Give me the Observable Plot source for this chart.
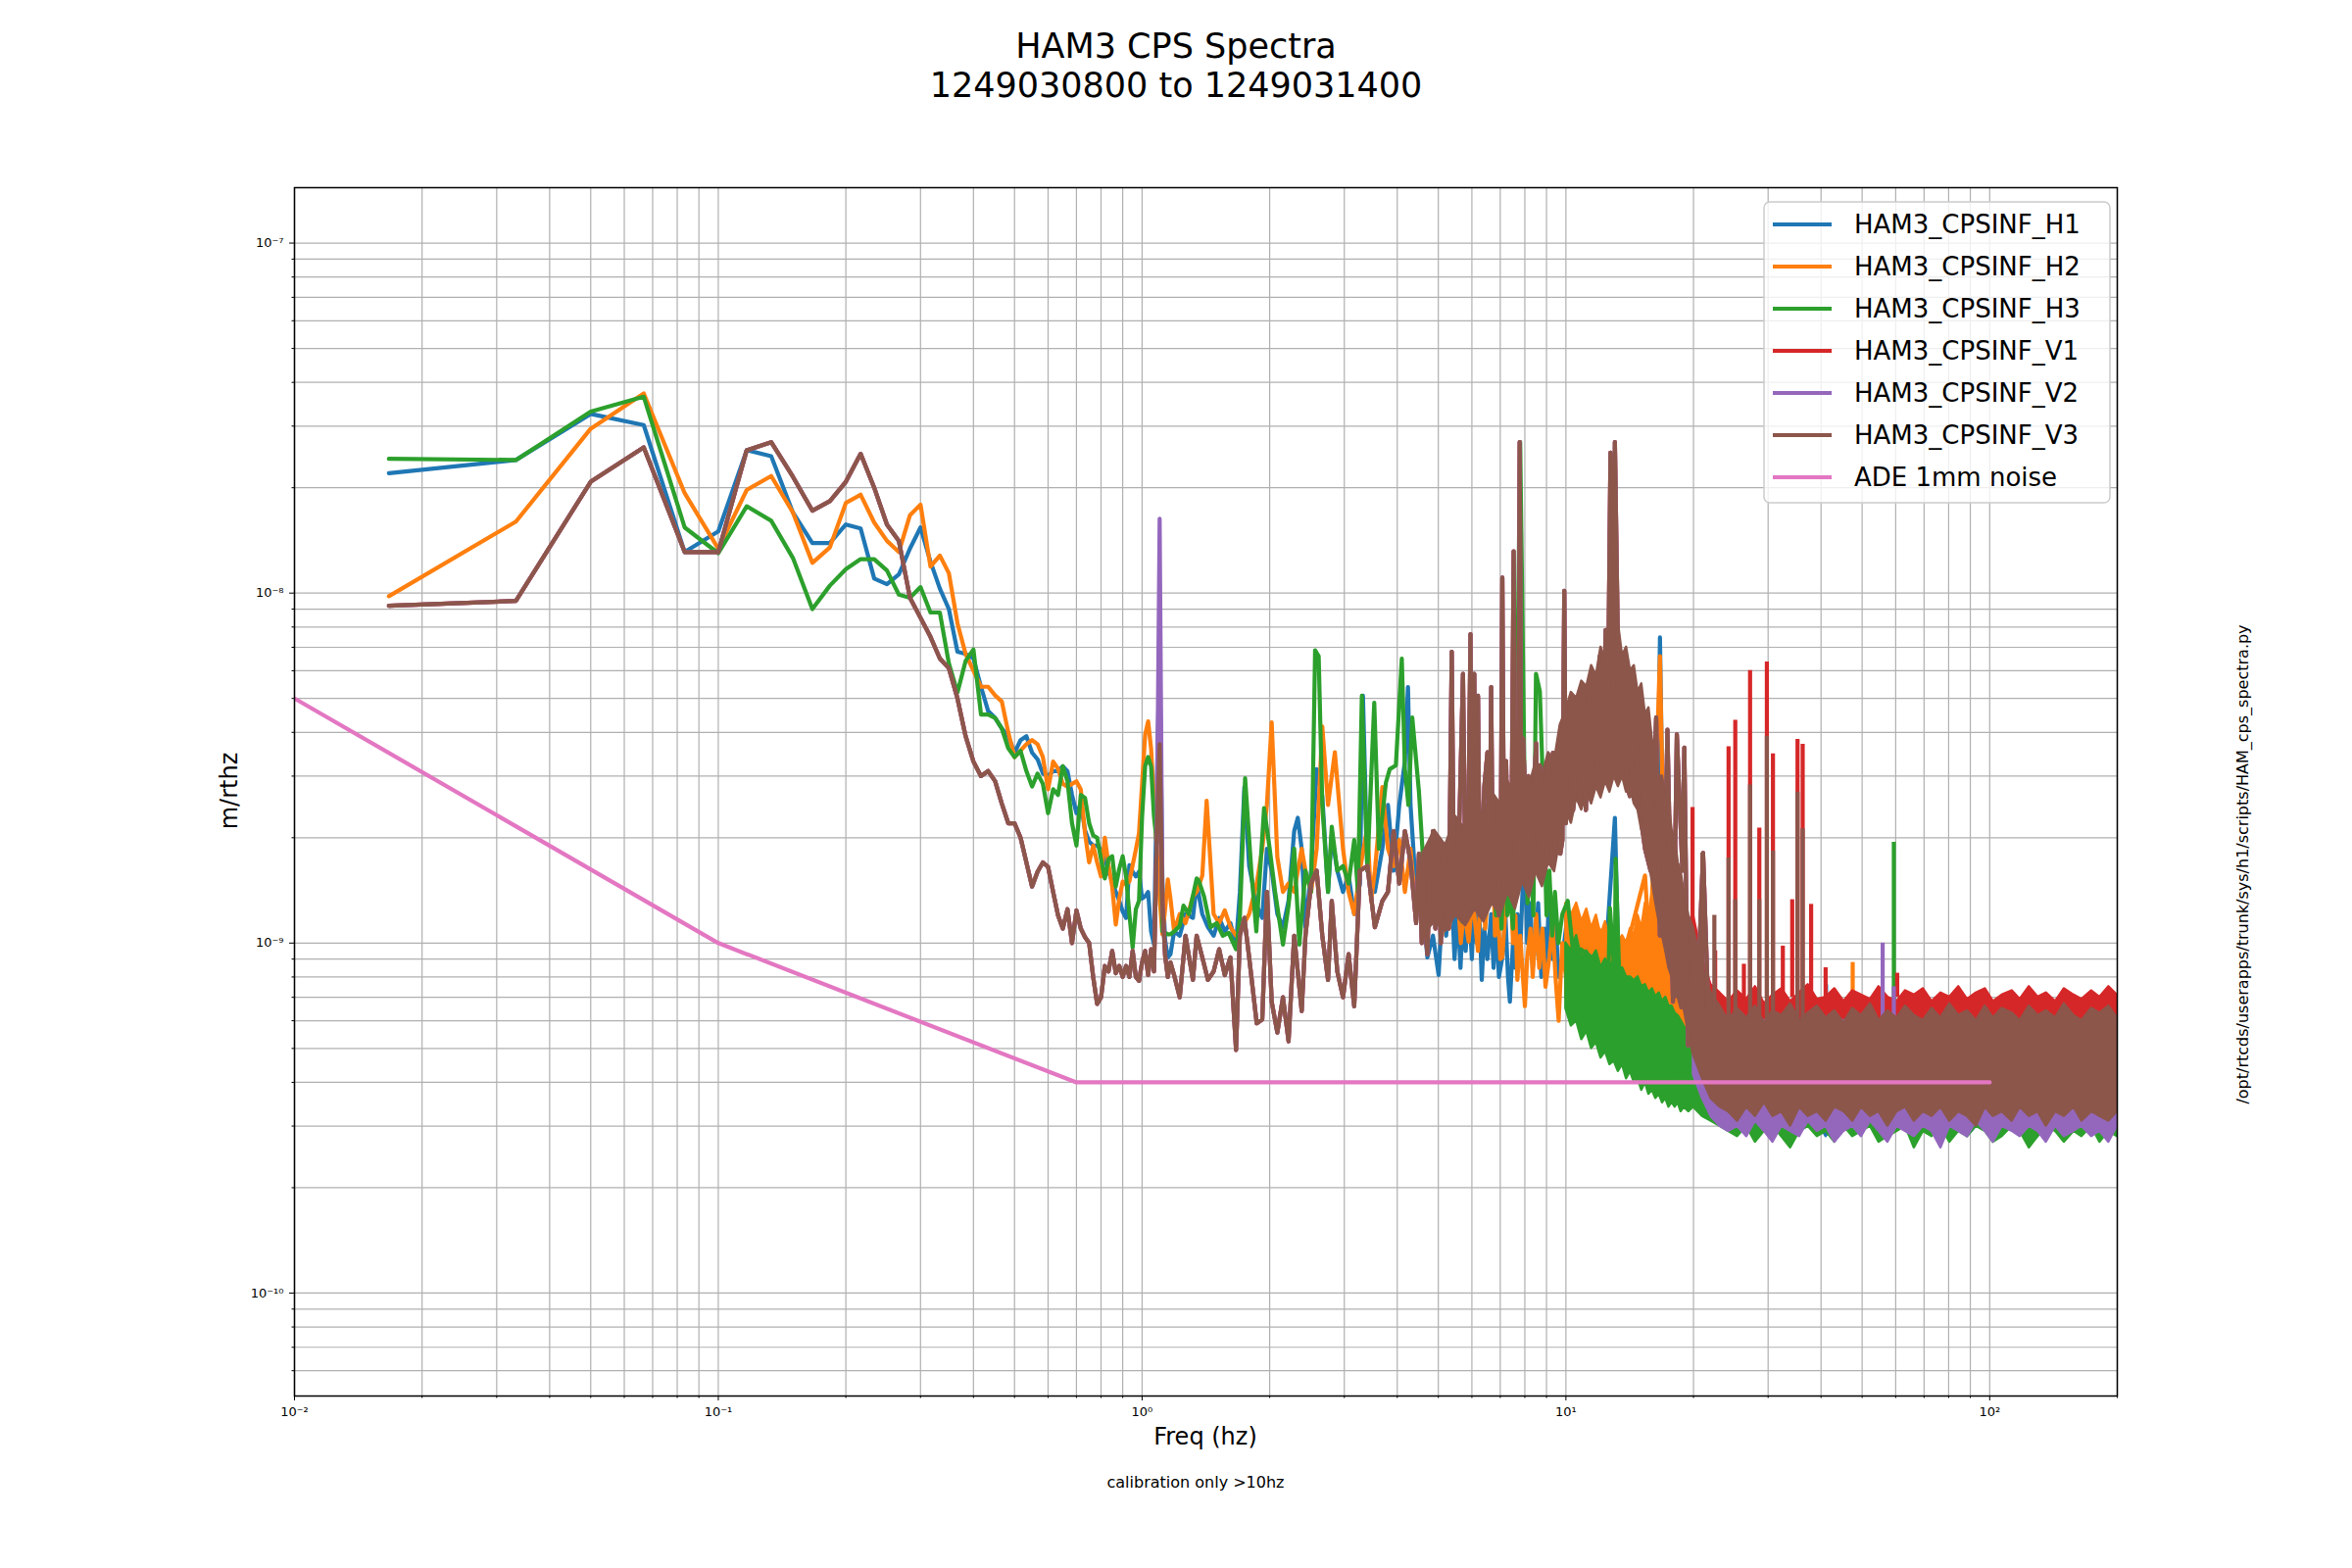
<!DOCTYPE html>
<html><head><meta charset="utf-8">
<script src="https://cdn.jsdelivr.net/npm/d3@7"></script>
<script src="https://cdn.jsdelivr.net/npm/@observablehq/plot@0.6"></script>
<style>
html,body{margin:0;padding:0;background:#fff;}
#chart{position:relative;width:2400px;height:1600px;}
</style></head><body><div id="chart"></div>
<script>
// ---------- DATA (amplitudes in units of 1e-10 m/rthz) ----------
const UNIT = 1e-10;
const seriesNames = ["HAM3_CPSINF_H1","HAM3_CPSINF_H2","HAM3_CPSINF_H3","HAM3_CPSINF_V1","HAM3_CPSINF_V2","HAM3_CPSINF_V3","ADE 1mm noise"];
const seriesColors = ["#1f77b4","#ff7f0e","#2ca02c","#d62728","#9467bd","#8c564b","#e377c2"];

const xTicks = [0.01, 0.1, 1, 10, 100];
const xTickLabels = ["10\u207B\u00B2","10\u207B\u00B9","10\u2070","10\u00B9","10\u00B2"];
const yTicks = [1e-10, 1e-9, 1e-8, 1e-7];
const yTickLabels = ["10\u207B\u00B9\u2070","10\u207B\u2079","10\u207B\u2078","10\u207B\u2077"];

// low-frequency bins (Hz)
const freqLow = [0.0167,0.0333,0.05,0.0667,0.0833,0.1,0.1167,0.1333,0.15,0.1667,
0.1833,0.2,0.2167,0.2333,0.25,0.2667,0.2833,0.3,0.3167,0.3333,
0.35,0.3667,0.3833,0.4,0.4167,0.4333,0.45,0.4667,0.4833,0.5,
0.5167,0.5333,0.55,0.5667,0.5833,0.6,0.6167,0.6333,0.65,0.6667,
0.6833,0.7,0.7167,0.7333,0.75,0.7667,0.7833,0.8,0.8167,0.8333,
0.85,0.8667,0.8833,0.9,0.9167,0.9333,0.95,0.9667,0.9833,1.0,
1.0167,1.0333,1.05,1.0667,1.0833,1.1,1.1167,1.1333,1.15,1.1667];

const h1Low = [220,240,325,302,131,150,256,246,170,139,
139,157,153,110,106,113,134,154,123,103,
90,68,67,65,54,46,44,41,39,35,
38,39,35,33.5,30.5,30,31,31,32,31,
26.5,23.5,25,21,19.5,19,19,18.5,17.5,16,
15,14,13.2,12.3,11.8,16.7,16,15.5,16,13.4,
13.6,14,10.8,9.9,28.5,66,15,10.2,9.1,9.3];
const h2Low = [98,160,295,372,193,134,197,216,170,122,
135,181,191,159,141,131,167,179,119,128,
114,82,67,60,54,54,51,49,40,34,
35.5,37,38,37,34,27.5,33,31.5,28.5,28,
28.5,29,27.5,20.6,17,19,17,15.5,20,16.7,
14.5,11.3,13.4,15,14.7,15,16.7,18.5,20.6,28.5,
39.4,43,36,25.6,18.5,13.4,10.6,12.5,15.2,13.4];
const h3Low = [242,240,330,364,154,130,177,161,126,90,
105,117,125,125,116,99,97,104,88,88,
63,52,64,69,45,45,44,41,36,34,
35.4,31,28,30.5,28.5,23.5,27.5,26.5,32,29,
22,19,26.5,26,22,20.3,20,17.4,15.3,17.4,
17.7,14.5,16.3,17.7,15.5,12.1,9.7,12.5,13.2,23,
32,34,32,23,19.3,39.4,10.8,10.7,10.6,10.6];
// V1, V2, V3 overlap almost exactly at low frequency
const vertLow = [92,95,208,261,131,131,256,270,215,172,
183,208,250,200,157,141,97,85,75,65,
61,50,39,33,30,31,29,25,22,22,
20,17,14.5,16,17,16.5,14,12,11,12.5,
10,12.4,11,10.4,10,8,6.7,7,8.6,8.3,
9.5,8.2,8.6,8,8.6,8,9.5,8,7.8,8.8,
9.5,8.1,9.6,8.3,20,37,13,9.2,8,8.8];

// mid-frequency samples [Hz, value]
const h1Mid = [[1.19,10.8],[1.227,10.5],[1.266,12.1],[1.318,11.8],[1.345,14.8],[1.387,12.1],[1.43,11.1],[1.475,10.5],[1.52,11.8],[1.567,10.8],[1.616,11.4],[1.666,9.9],[1.701,14],[1.743,27.9],[1.789,16.6],[1.864,12.8],[1.921,11.8],[1.97,18.6],[2.022,16.1],[2.085,12.1],[2.15,11.1],[2.216,13.2],[2.285,20.9],[2.33,22.8],[2.38,18.6],[2.429,11.1],[2.505,16.1],[2.582,31.4],[2.662,26.3],[2.746,14],[2.802,20.3],[2.888,16.1],[2.979,14],[3.071,15.6],[3.166,12.1],[3.265,14.8],[3.32,50.9],[3.401,16.1],[3.542,14],[3.689,18.6],[3.803,24.8],[3.922,16.1],[4.044,24.8],[4.169,33.1],[4.24,53.9],[4.299,24.8],[4.432,14],[4.617,12.1],[4.711,9.1],[4.857,10.5],
[5.008,8.1],[5.1,12],[5.216,10.5],[5.3,13],[5.378,14],[5.46,9],[5.55,12.5],[5.64,8.5],[5.717,12.1],[5.8,9.5],[5.9,13],[6.0,9],[6.078,14],[6.16,10],[6.25,12],[6.331,7.85],[6.42,11],[6.53,9],[6.663,12.1],[6.75,8.5],[6.85,11.5],[6.95,8],[7.08,9.1],[7.2,12],[7.3,8],[7.376,6.8],[7.5,10],[7.6,8.5],[7.683,12.1],[7.8,9.5],[7.9,14],[8.003,18.6],[8.1,10],[8.25,13],[8.35,8.5],[8.507,10.5],[8.6,13],[8.75,8],[8.9,11],[9.0,8.5],[9.138,14],[9.3,9],[9.45,12],[9.6,8],[9.811,9.1],[10.0,11],[10.22,12.1],[10.6,7.5],[11.0,10.5],[11.32,7.85],[11.8,10],[12.41,9.1],[13.05,22.8],[13.32,8.3],[14.16,10.5],[15.37,9.1],[16.33,12.1],[16.67,74.7],[16.9,24.8],[17.36,10.5],[18.27,7.85],[19.42,5.9],[20.43,5.1]];
const h2Mid = [[1.19,10.8],[1.227,12.1],[1.266,11.4],[1.318,13.6],[1.345,14],[1.387,15.6],[1.42,25.5],[1.475,12.1],[1.52,11.4],[1.567,12.4],[1.616,11.1],[1.666,10.5],[1.701,10.8],[1.789,12.1],[1.864,14.8],[1.921,18.6],[1.97,24.8],[2.022,42.7],[2.085,17.6],[2.15,14],[2.216,14.8],[2.285,14],[2.38,18.6],[2.429,16.1],[2.505,14],[2.582,18.6],[2.662,41.6],[2.746,24.8],[2.85,35.1],[2.979,18.6],[3.071,14],[3.166,12.1],[3.265,16.1],[3.401,21.5],[3.47,13.2],[3.542,16.1],[3.689,27.9],[3.803,18.6],[3.922,16.6],[4.044,19.7],[4.169,14],[4.299,18.6],[4.432,12.1],[4.617,16.1],[4.857,12.1],
[5.008,14],[5.1,10.5],[5.216,18.6],[5.3,11],[5.4,13],[5.546,14],[5.65,10],[5.75,12.5],[5.895,10.1],[6.0,13],[6.078,12.1],[6.2,9.5],[6.331,16.1],[6.45,11],[6.55,14],[6.663,30.4],[6.801,10.5],[6.9,13],[7.0,9],[7.08,9.1],[7.2,12.5],[7.376,18.6],[7.5,10],[7.6,12],[7.683,7.85],[7.8,10.5],[8.003,6.6],[8.1,9],[8.25,11],[8.35,8],[8.507,12.1],[8.65,8.5],[8.8,11],[8.95,7.5],[9.138,9.1],[9.3,11.5],[9.45,8],[9.614,6],[9.8,10],[10.0,8],[10.22,12.1],[10.7,8],[11.32,7.85],[11.9,11],[12.41,10.5],[13.73,9.1],[15.37,15.6],[15.8,9.1],[16.67,66],[17.0,18.6],[17.89,9.1],[18.84,7.85],[20.02,5.1]];
const h3Mid = [[1.19,10.8],[1.227,11.2],[1.252,12.8],[1.29,12.1],[1.345,15.3],[1.36,15.1],[1.40,13.6],[1.45,11.1],[1.50,11.4],[1.55,10.5],[1.60,10.7],[1.666,9.6],[1.701,11.8],[1.75,29.6],[1.81,16.1],[1.86,10.8],[1.94,24.3],[2.0,18.6],[2.06,14],[2.15,9.9],[2.216,12.8],[2.285,18.6],[2.35,9.9],[2.429,16.1],[2.505,14],[2.56,68.6],[2.61,66],[2.662,24.8],[2.746,14],[2.802,21.5],[2.888,16.1],[2.979,16.6],[3.071,14.8],[3.166,19.7],[3.23,14],[3.3,50.9],[3.40,16.1],[3.53,48.6],[3.62,18.6],[3.76,28.7],[3.84,31.4],[3.97,32.2],[4.10,65],[4.17,31.4],[4.25,24.8],[4.34,44.1],[4.50,27.1],[4.62,16.1],[4.78,17.6],[4.93,14.8],[5.08,11],[5.22,18.6],[5.38,12],[5.55,16.1],[5.7,11.5],[5.83,21.2],[5.92,12],[6.02,17.6],[6.14,38.4],[6.24,13],[6.33,18.6],[6.43,12],[6.53,24.8],[6.63,13],[6.73,21.5],[6.84,12],[6.94,16.1],[7.05,11],[7.16,19.7],[7.27,12],[7.38,14],[7.5,11],[7.6,18.6],[7.8,270],[8.0,24.8],[8.12,13],[8.25,18.6],[8.38,12],[8.5,58.8],[8.68,52.4],[8.86,24.8],[9.0,12],[9.14,16.1],[9.28,10.5],[9.42,14],[9.6,10],[9.81,12.1],[10.1,13.2],[10.43,9.1],[10.64,7.2],[10.84,9.6],[11.5,9.1],[12.03,5.9],[12.5,5.24],[12.7,12.6],[13.05,7.85],[13.1,17.4],[13.5,5.4],[14.16,4.4],[15.0,4.7],[15.37,5.9],[16.33,5.1],[17.36,4.7],[18.27,4.4],[19.42,4.0],[20.4,3.8]];
const vertMid = [[1.19,8.1],[1.227,7.0],[1.266,10.5],[1.318,7.85],[1.345,10.5],[1.387,9.1],[1.43,7.85],[1.475,8.3],[1.52,9.6],[1.567,8.1],[1.616,9.1],[1.666,4.95],[1.701,10.5],[1.743,11.8],[1.789,9.1],[1.864,5.9],[1.921,6.05],[1.97,14],[2.022,6.8],[2.085,5.55],[2.15,7.0],[2.216,5.24],[2.285,10.5],[2.38,6.4],[2.429,10.5],[2.505,14.8],[2.582,16.1],[2.662,10.5],[2.746,7.85],[2.802,13.2],[2.888,8.3],[2.979,7.0],[3.071,9.3],[3.166,6.6],[3.265,16.1],[3.401,16.6],[3.542,11.1],[3.689,13.2],[3.803,14],[3.922,20.9],[4.044,14.8],[4.169,20.9],[4.299,17.1],[4.432,11.4],
[4.5,18],[4.57,10],[4.617,17.6],[4.66,11],[4.711,9.3],[4.78,16],[4.857,20.9],[4.92,11],[5.008,16.1],[5.07,10],[5.14,19],[5.216,14.8],[5.29,11],[5.378,68],[5.45,12],[5.546,14],[5.62,25],[5.717,58.8],[5.8,13],[5.895,26.3],[5.955,76.3],[6.0,20],[6.078,58.8],[6.14,15],[6.203,50.9],[6.27,12],[6.331,18.6],[6.42,28],[6.529,35.1],[6.6,14],[6.663,53.9],[6.73,13],[6.801,17.6],[6.88,24],[6.95,12],[7.02,20],[7.08,110.7],[7.15,14],[7.227,33.1],[7.3,16],[7.376,14],[7.45,25],[7.528,131.7],[7.6,17],[7.683,35.1],[7.73,18],[7.778,270],[7.85,20],[7.922,38.4],[8.003,27.9],[8.08,15],[8.16,30],[8.251,26.3],[8.33,16],[8.42,28],[8.507,37.2],[8.6,18],[8.682,32.2],[8.77,17],[8.862,22.8],[8.95,30],[9.04,17],[9.138,26.3],[9.23,19],[9.32,35],[9.419,29.6],[9.5,20],[9.614,33.1],[9.7,18],[9.811,19.7],[9.911,101.6],[10.0,22],[10.1,40],[10.22,36.2],[10.4,24],[10.64,44.1],[10.8,26],[10.97,35.1],[11.15,24],[11.32,50.9],[11.5,28],[11.67,55.6],[11.85,30],[12.03,66.1],[12.2,32],[12.41,78.5],[12.55,40],[12.74,252],[12.9,44],[13.05,270],[13.32,50.9],[13.5,30],[13.73,44.1],[13.95,28],[14.16,26.3],[14.6,44.1],[14.9,24.8],[15.37,18.6],[15.84,16.1],[16.33,44.1],[16.67,10.5],[17.18,21.5],[17.36,40.7],[17.89,6.8],[18.27,39.5],[18.84,16.1],[19.03,36.2],[19.42,5.1],[20.02,9.1],[20.43,6.8],[21.07,18.1],[21.73,5.88],[22.54,4.41]];
const v2Peak = [[1.0833,20],[1.1,163],[1.1167,13]];

// dense noise envelopes (lo / hi)
const fV3Pre = [4.6,4.9,5.2,5.5,5.8,6.1,6.4,6.7,7,7.3,7.6,7.9,8.2,8.5,8.8,9.1,9.4,9.7];
const fTrans = [10,10.3,10.6,10.9,11.2,11.5,11.8,12.1,12.4,12.7,13,13.3,13.6,13.9,14.2,14.5,14.8,15.1,15.4,15.7,16,16.3,16.6,16.9,17.2,17.5,17.8,18.1,18.4,18.7,19,19.5];
const fHigh = [20,21,22,23.1,24.2,25.4,26.7,28,29.4,30.8,32.3,33.9,35.6,37.3,39.2,41.1,43.1,45.3,47.5,49.8,52.3,54.8,57.5,60.4,63.3,66.4,69.7,73.1,76.7,80.5,84.5,88.6,93,97.6,102,107,113,118,124,130,136,143,150,158,165,174,182,191,200];

const h1TransLo = [7,6.2,6.6,5.8,6.2,5.5,5.8,5.2,5.5,5.0,5.3,4.9,5.1,4.8,5.0,4.7,4.9,4.6,4.8,4.5,4.7,4.4,4.6,4.3,4.5,4.2,4.3,4.0,4.1,3.8,3.8,3.5];
const h1TransHi = [12,11,12,10.5,11,10,10.5,9.5,10,9.5,11,9.5,10,9,9.5,9,9.5,9,9.5,9,10,9.5,10,9.5,9.5,9,8.5,8.5,8,7.5,7,6];
const h1HighLo = [3.5,3.3,3.2,3.1,3.0,3.1,2.9,3.0,3.1,2.9,3.0,3.2,2.9,3.0,3.1,2.8,3.0,3.1,2.9,3.0,3.1,3.0,2.8,3.1,3.0,2.9,3.1,3.0,2.9,3.1,3.0,2.8,3.0,3.1,2.9,3.0,3.1,2.9,3.0,2.8,3.1,3.0,2.9,3.1,3.0,2.9,3.1,2.8,3.0];
const h1HighHi = [6,5.5,5.2,5.1,5,5,5,5,5,5,5,5,5,5,5,5,5,5,5,5,5,5,5,5,5,5,5,5,5,5,5,5,5,5,5,5,5,5,5,5,5,5,5,5,5,5,5,5,5];

const h2TransLo = [7,6.5,6.8,6.2,6.4,5.9,6.1,5.7,5.9,5.5,5.7,5.4,5.6,5.3,5.5,5.2,5.4,5.1,5.3,5.0,5.2,4.9,5.0,4.7,4.8,4.5,4.5,4.3,4.3,4.0,4.0,3.6];
const h2TransHi = [13,12,13,11.5,12.5,11,12,10.5,11.5,10,11,10,10.5,10,11,10.5,12,11,13,12,14,13,13.5,12,12,11,10.5,10,9.5,9,8,7];
const h2HighLo = [3.5,3.3,3.2,3.1,3.1,3.0,3.2,2.9,3.1,3.0,3.1,2.9,3.0,3.2,3.0,3.1,2.9,3.1,3.0,2.9,3.1,3.0,3.2,2.9,3.1,3.0,2.9,3.1,3.0,3.1,2.9,3.0,3.1,3.0,2.9,3.1,3.0,2.9,3.1,3.0,3.2,2.9,3.0,3.1,2.9,3.0,3.1,3.0,2.9];
const h2HighHi = [6,5.5,5.2,5.1,5,5,5,5,5,5,5,5,5,5,5,5,5,5,5,5,5,5,5,5,5,5,5,5,5,5,5,5,5,5,5,5,5,5,5,5,5,5,5,5,5,5,5,5,5];

const h3TransLo = [6.5,5.8,6.0,5.3,5.6,5.0,5.2,4.7,4.9,4.5,4.6,4.3,4.5,4.1,4.3,4.0,4.1,3.8,4.0,3.7,3.8,3.6,3.7,3.5,3.6,3.4,3.5,3.4,3.5,3.3,3.4,3.3];
const h3TransHi = [10,9.5,10.5,9,9.5,9,9.5,8.5,9,8.5,9,8,8.5,8,8,7.8,8,7.5,7.6,7.2,7.4,7,7.2,6.8,7,6.6,6.6,6.3,6.2,6,5.8,5.4];
const h3HighLo = [3.4,3.2,3.1,3.0,2.9,2.8,3.0,2.7,2.9,3.0,2.8,2.6,2.9,3.0,2.8,2.9,2.7,3.0,2.8,2.9,3.0,2.7,2.8,2.9,3.0,2.6,2.9,2.8,3.0,2.7,2.9,2.8,3.0,2.9,2.7,2.8,3.0,2.9,2.6,2.8,3.0,2.9,2.7,2.9,2.8,3.0,2.7,2.9,2.8];
const h3HighHi = [5.4,5.1,5.0,4.9,4.8,4.8,4.8,4.8,4.8,4.8,4.8,4.8,4.8,4.8,4.8,4.8,4.8,4.8,4.8,4.8,4.8,4.8,4.8,4.8,4.8,4.8,4.8,4.8,4.8,4.8,4.8,4.8,4.8,4.8,4.8,4.8,4.8,4.8,4.8,4.8,4.8,4.8,4.8,4.8,4.8,4.8,4.8,4.8,4.8];

const v1HighLo = [5,4.2,3.8,3.7,3.7,3.7,3.7,3.7,3.7,3.7,3.7,3.7,3.7,3.7,3.7,3.7,3.7,3.7,3.7,3.7,3.7,3.7,3.7,3.7,3.7,3.7,3.7,3.7,3.7,3.7,3.7,3.7,3.7,3.7,3.7,3.7,3.7,3.7,3.7,3.7,3.7,3.7,3.7,3.7,3.7,3.7,3.7,3.7,3.7];
const v1HighHi = [12,9,7.6,7.2,6.8,7.3,6.9,7.5,6.7,7.1,7.4,6.8,7.2,7.6,6.9,7.0,7.4,6.8,7.3,7.1,6.9,7.5,7.0,6.8,7.3,7.1,7.4,6.8,7.2,7.0,7.5,6.9,7.2,7.4,6.8,7.1,7.3,6.9,7.5,7.0,7.2,6.8,7.4,7.1,6.9,7.3,7.0,7.5,7.1];
const v2HighLo = [4.2,3.6,3.2,3.0,2.9,3.0,2.8,3.1,2.9,2.7,3.0,2.9,2.8,3.1,2.9,3.0,2.7,2.9,3.0,2.8,3.1,2.9,2.7,3.0,2.9,2.8,3.0,2.9,2.6,3.0,2.9,2.8,3.1,2.9,2.7,3.0,2.9,2.8,3.0,2.9,2.7,3.0,2.8,2.9,3.0,2.8,2.9,2.7,3.0];
const v2HighHi = [10,8,7,6.5,6,6,6,6,6,6,6,6,6,6,6,6,6,6,6,6,6,6,6,6,6,6,6,6,6,6,6,6,6,6,6,6,6,6,6,6,6,6,6,6,6,6,6,6,6];
const v3PreLo = [10.5,11.5,10.8,12,11.2,12.5,11.5,13,12,14,12.5,15,13.5,16,14.5,17,16,20];
const v3PreHi = [18,21,19,23,21,25,23,27,25,29,26,31,28,33,30,35,33,42];
const v3TransLo = [24,22,26,24,27,25,28,26,29,27,30,28,30,27,28,25,24,21,19,17,15,13,11.5,10.5,9.5,8.5,8,7,7,6.5,6.5,5.5];
const v3TransHi = [46,52,50,56,54,62,58,70,64,80,72,82,66,70,60,62,52,55,45,47,38,36,30,30,26,25,21,20,17,16,14,12];
const v3HighLo = [4.8,4.1,3.6,3.4,3.3,3.1,3.4,3.2,3.5,3.2,3.3,3.0,3.4,3.2,3.3,3.1,3.4,3.3,3.1,3.4,3.2,3.3,3.0,3.3,3.4,3.1,3.3,3.2,3.4,3.1,3.3,3.2,3.0,3.4,3.2,3.3,3.1,3.4,3.2,3.3,3.0,3.3,3.2,3.4,3.1,3.3,3.2,3.1,3.3];
const v3HighHi = [11,8.5,7.2,6.6,6.0,6.5,6.1,6.6,5.9,6.4,6.2,6.7,6.0,6.3,6.6,6.1,6.4,5.9,6.5,6.2,6.7,6.0,6.4,6.1,6.6,6.2,6.0,6.5,6.1,6.7,6.2,6.4,6.0,6.6,6.1,6.5,6.3,6.0,6.6,6.2,6.4,6.1,6.7,6.2,6.0,6.5,6.3,6.6,6.1];

// narrow spectral lines [Hz, base, top]
const h1Spikes = [[41.1,5,7.6]];
const h2Spikes = [[47.5,5,8.8]];
const h3Spikes = [[59.4,5,19.4]];
const v1Spikes = [[19.9,9,24.4],[22.5,7,9.5],[24.2,7,36.4],[25.1,7,43.3],[26.3,7,8.7],[27.2,7,60.1],[28.6,7,21.3],[29.8,7,63.6],[30.8,7,34.7],[32.5,7,9.8],[34.2,7,13.3],[35.2,7,38.2],[36.2,7,37],[37.9,7,12.9],[41,7,8.5],[60.5,7,8.2]];
const v2Spikes = [[55.9,6,10],[59.4,6,7.5]];
const v3Spikes = [[21.0,6,18.1],[22.4,6,12],[24.2,6,17.5],[25.1,6,13.3],[27.2,6,28.3],[28.6,6,13.3],[29.8,6,39],[30.8,6,18.3],[35.2,6,27],[36.2,6,21.2]];

// ADE 1mm noise reference
const adeFreq = [0.01, 0.1, 0.7, 100];
const adeVal = [50, 10, 4, 4];

// ---------- BUILD ----------
const fBandFull = fTrans.concat(fHigh);
const series = [
  {low: h1Low, mid: h1Mid, bandF: fBandFull, lo: h1TransLo.concat(h1HighLo), hi: h1TransHi.concat(h1HighHi), spikes: h1Spikes},
  {low: h2Low, mid: h2Mid, bandF: fBandFull, lo: h2TransLo.concat(h2HighLo), hi: h2TransHi.concat(h2HighHi), spikes: h2Spikes},
  {low: h3Low, mid: h3Mid, bandF: fBandFull, lo: h3TransLo.concat(h3HighLo), hi: h3TransHi.concat(h3HighHi), spikes: h3Spikes},
  {low: vertLow, mid: vertMid, bandF: fHigh, lo: v1HighLo, hi: v1HighHi, spikes: v1Spikes},
  {low: vertLow, mid: vertMid, bandF: fHigh, lo: v2HighLo, hi: v2HighHi, spikes: v2Spikes, extra: v2Peak},
  {low: vertLow, mid: vertMid, bandF: fV3Pre.concat(fTrans, fHigh), lo: v3PreLo.concat(v3TransLo, v3HighLo), hi: v3PreHi.concat(v3TransHi, v3HighHi), spikes: v3Spikes}
];

const xGrid = [], yGrid = [], xMinor = [], yMinor = [];
for (let e = -2; e <= 2; e++) for (let m = 1; m <= 9; m++) {
  const v = m * Math.pow(10, e);
  if (v >= 0.00999 && v <= 200.001) { xGrid.push(v); if (m > 1) xMinor.push(v); }
}
for (let e = -11; e <= -7; e++) for (let m = 1; m <= 9; m++) {
  const v = m * Math.pow(10, e);
  if (v >= 5.08e-11 && v <= 1.44e-7) { yGrid.push(v); if (m > 1) yMinor.push(v); }
}

const LW = 4.2;
const gridStyle = {stroke: "#b0b0b0", strokeOpacity: 1, strokeWidth: 1.2};
const marks = [Plot.gridX(xGrid, gridStyle), Plot.gridY(yGrid, gridStyle)];

series.forEach((s, i) => {
  const color = seriesColors[i];
  const band = s.bandF.map((f, j) => ({f, lo: s.lo[j] * UNIT, hi: s.hi[j] * UNIT}));
  const line = freqLow.map((f, j) => ({f, v: s.low[j] * UNIT}))
    .concat(s.mid.map(([f, v]) => ({f, v: v * UNIT})));
  marks.push(Plot.areaY(band, {x: "f", y1: "lo", y2: "hi", fill: color, stroke: color, strokeWidth: 2.5, clip: true}));
  marks.push(Plot.line(line, {x: "f", y: "v", stroke: color, strokeWidth: LW, clip: true}));
  if (s.extra) marks.push(Plot.line(s.extra.map(([f, v]) => ({f, v: v * UNIT})), {x: "f", y: "v", stroke: color, strokeWidth: LW, clip: true}));
  marks.push(Plot.ruleX(s.spikes.map(([f, b, t]) => ({f, b: b * UNIT, t: t * UNIT})), {x: "f", y1: "b", y2: "t", stroke: color, strokeWidth: 4.2, clip: true}));
});

marks.push(Plot.line(adeFreq.map((f, j) => ({f, v: adeVal[j] * UNIT})), {x: "f", y: "v", stroke: seriesColors[6], strokeWidth: LW, clip: true}));
marks.push(Plot.frame({stroke: "black", strokeWidth: 1.5}));
marks.push(Plot.axisX(xTicks, {anchor: "bottom", tickSize: 5, tickPadding: 6, fontSize: 13, tickFormat: d => xTickLabels[xTicks.indexOf(d)]}));
marks.push(Plot.axisX(xMinor, {anchor: "bottom", tickSize: 2.5, tickFormat: () => ""}));
marks.push(Plot.axisY(yTicks, {anchor: "left", tickSize: 5, tickPadding: 6, fontSize: 13, tickFormat: d => yTickLabels[yTicks.indexOf(d)]}));
marks.push(Plot.axisY(yMinor, {anchor: "left", tickSize: 2.5, tickFormat: () => ""}));

const svgEl = Plot.plot({
  width: 2400, height: 1600,
  marginLeft: 300, marginRight: 240, marginTop: 191, marginBottom: 176,
  x: {type: "log", domain: [0.01, 200], label: null},
  y: {type: "log", domain: [5.08e-11, 1.44e-7], label: null},
  style: {fontFamily: "DejaVu Sans", fontSize: "13px", color: "black", background: "white"},
  marks
});
document.getElementById("chart").appendChild(svgEl);

// ---------- TEXT & LEGEND ----------
const svg = d3.select(svgEl);
const FONT = "DejaVu Sans";
function addText(x, y, str, size, anchor, transform) {
  const t = svg.append("text").attr("text-anchor", anchor)
    .style("font-family", FONT).style("font-size", size + "px").attr("fill", "black").text(str);
  if (transform) t.attr("transform", transform).attr("dominant-baseline", "central");
  else t.attr("x", x).attr("y", y);
  return t;
}
addText(1200, 59, "HAM3 CPS Spectra", 35, "middle");
addText(1200, 99, "1249030800 to 1249031400", 35, "middle");
addText(1230, 1474, "Freq (hz)", 24, "middle");
addText(0, 0, "m/rthz", 24, "middle", "translate(234,807) rotate(-90)");
addText(1220, 1518, "calibration only >10hz", 16, "middle");
addText(0, 0, "/opt/rtcds/userapps/trunk/sys/h1/scripts/HAM_cps_spectra.py", 16, "middle", "translate(2288,882) rotate(-90)");

const lg = svg.append("g");
lg.append("rect").attr("x", 1800).attr("y", 206).attr("width", 353).attr("height", 307).attr("rx", 6)
  .attr("fill", "white").attr("fill-opacity", 0.8).attr("stroke", "#cccccc").attr("stroke-width", 1.5);
seriesNames.forEach((name, i) => {
  const cy = 229 + 43 * i;
  lg.append("line").attr("x1", 1809).attr("x2", 1869).attr("y1", cy).attr("y2", cy)
    .attr("stroke", seriesColors[i]).attr("stroke-width", 4.2);
  lg.append("text").attr("x", 1892).attr("y", cy).attr("text-anchor", "start").attr("dominant-baseline", "central")
    .style("font-family", FONT).style("font-size", "26px").attr("fill", "black").text(name);
});
</script></body></html>
